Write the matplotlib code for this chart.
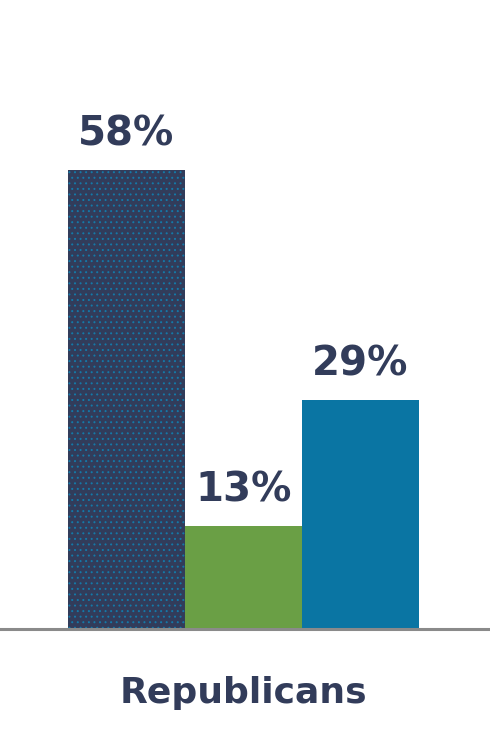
import matplotlib as mpl
mpl.use('Agg')
import matplotlib.pyplot as plt

# data
groups = ['Republicans']
labels = ['58%', '13%', '29%']
values = [58, 13, 29]
colors = ['#323c5a', '#6a9f45', '#0a75a3']

text_color = '#323c5a'

mpl.rcParams['hatch.linewidth'] = 0.7

fig = plt.figure(figsize=(4.9, 7.32), dpi=100)
ax = fig.add_axes([0, 103 / 732, 1, 629 / 732])

x = list(range(len(values)))
bars = ax.bar(x, values, width=1.0, color=colors, linewidth=0)
# dotted texture on first bar
bars[0].set_hatch('...')
bars[0].set_edgecolor('#1479a8')

ax.set_xlim(-1.081, 3.107)
ax.set_ylim(0, 79.5)

for rect, lab in zip(bars, labels):
    h = rect.get_height()
    ax.annotate(lab, (rect.get_x() + rect.get_width() / 2, h),
                xytext=(0, 11), textcoords='offset points',
                ha='center', va='bottom', fontsize=29, fontweight='bold',
                color=text_color)

for s in ['top', 'right', 'left']:
    ax.spines[s].set_visible(False)
ax.spines['bottom'].set_color('#8a8a8a')
ax.spines['bottom'].set_linewidth(2.2)
ax.set_yticks([])
ax.set_xticks([1])
ax.set_xticklabels(groups, fontsize=26, fontweight='bold', color=text_color)
ax.tick_params(axis='x', length=0, pad=34)

fig.savefig('out.png', dpi=100)
